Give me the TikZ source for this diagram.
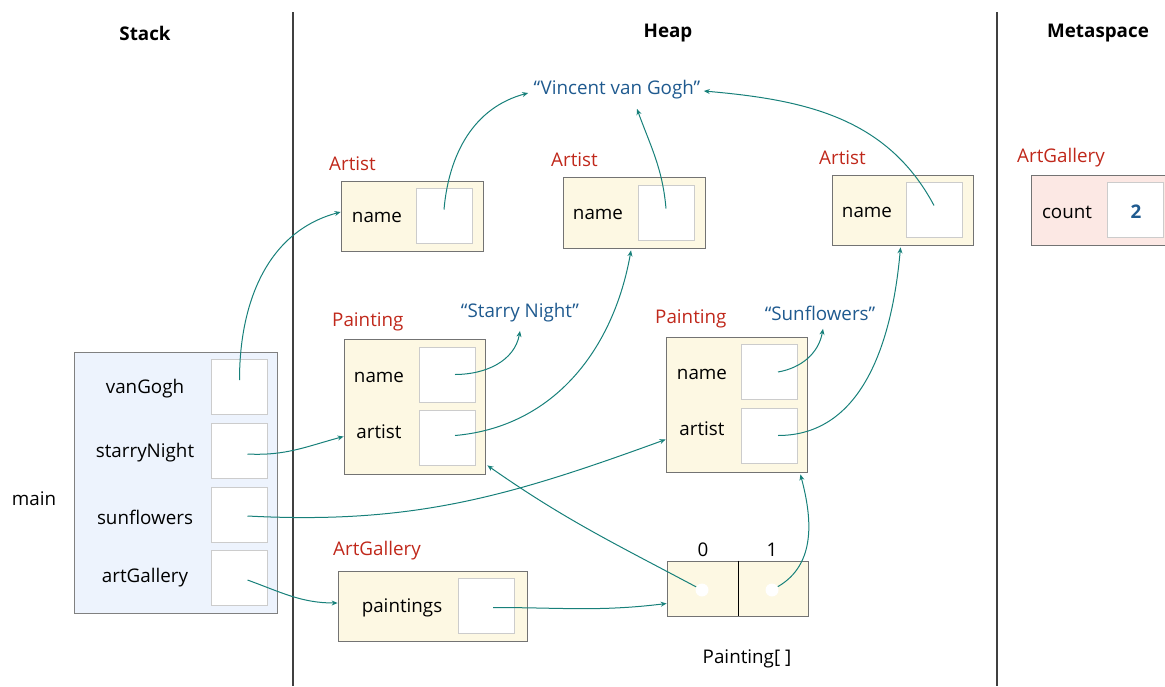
\documentclass[tikz,border=0pt]{standalone}
\usepackage{fontspec}
\setmainfont{Open Sans}
\usetikzlibrary{arrows.meta}

\definecolor{objfill}{HTML}{FDF8E3}
\definecolor{stackfill}{HTML}{EDF3FD}
\definecolor{metafill}{HTML}{FCE8E4}
\definecolor{typered}{HTML}{C0281B}
\definecolor{strblue}{HTML}{1F5A8F}
\definecolor{refteal}{HTML}{17807A}

\begin{document}
\begin{tikzpicture}[x=1pt,y=-1pt,
    every node/.style={font=\fontsize{18.8}{22}\selectfont},
    obj/.style={rectangle,fill=objfill,draw=black!55,line width=0.8pt,inner sep=0},
    slot/.style={rectangle,fill=white,draw=black!20,line width=0.8pt,minimum width=56,minimum height=55,inner sep=0},
    typename/.style={text=typered,anchor=west,inner sep=0},
    strval/.style={text=strblue},
    header/.style={font=\fontsize{18.8}{22}\selectfont\bfseries},
    dot/.style={circle,fill=white,minimum size=13,inner sep=0},
    ptr/.style={-{Stealth[length=6pt,width=5pt]},draw=refteal,line width=1pt},
    divider/.style={draw=black!75,line width=1.4pt}
]
\useasboundingbox (0,0) rectangle (1165,686);

% Areas
\draw[divider] (293,12) -- (293,686);
\draw[divider] (997,12) -- (997,686);
\node[header] (hstack) at (145,33) {Stack};
\node[header] (hheap) at (668,33) {Heap};
\node[header] (hmeta) at (1098,33) {Metaspace};

% Stack frame
\node (main) at (34,499) {main};
\node[rectangle,fill=stackfill,draw=black!50,line width=0.8pt,minimum width=203,minimum height=261] (frame) at (175.5,482.5) {};
\node (lvg) at (145,389) {vanGogh};
\node (lsn) at (145,453) {starryNight};
\node (lsf) at (145,517) {sunflowers};
\node (lag) at (145,578) {artGallery};
\node[slot] (s1) at (239.5,387) {};
\node[slot] (s2) at (239.5,451) {};
\node[slot] (s3) at (239.5,515) {};
\node[slot] (s4) at (239.5,578) {};

% Artists
\node[typename] (t1) at (329,164) {Artist};
\node[obj,minimum width=142,minimum height=70] (art1) at (412,216) {};
\node (n1) at (377,217) {name};
\node[slot] (art1s) at (444,215.5) {};

\node[typename] (t2) at (551,160) {Artist};
\node[obj,minimum width=142,minimum height=71] (art2) at (634,212.5) {};
\node (n2) at (598,214) {name};
\node[slot] (art2s) at (666,212.5) {};

\node[typename] (t3) at (819,158) {Artist};
\node[obj,minimum width=141,minimum height=70] (art3) at (902.5,210) {};
\node (n3) at (867,212) {name};
\node[slot] (art3s) at (934,209.5) {};

\node[strval] (vvg) at (617,90) {“Vincent van Gogh”};

% Paintings
\node[typename] (t4) at (332,322) {Painting};
\node[obj,minimum width=141,minimum height=135] (pnt1) at (414.5,406.5) {};
\node (n4) at (379,377) {name};
\node (a4) at (379,432) {artist};
\node[slot] (p1n) at (447,374.5) {};
\node[slot] (p1a) at (447,437.5) {};
\node[strval] (sn) at (520,313) {“Starry Night”};

\node[typename] (t5) at (655,319) {Painting};
\node[obj,minimum width=141,minimum height=135] (pnt2) at (736.5,404.5) {};
\node (n5) at (702,374) {name};
\node (a5) at (702,429) {artist};
\node[slot] (p2n) at (769,372) {};
\node[slot] (p2a) at (769,435.5) {};
\node[strval] (sf) at (820,313) {“Sunflowers”};

% Gallery and array
\node[typename] (t6) at (333,551) {ArtGallery};
\node[obj,minimum width=189,minimum height=70] (gal) at (432.5,606) {};
\node (pl) at (402,608) {paintings};
\node[slot] (gals) at (486,605.5) {};

\node[obj,minimum width=71,minimum height=55] (c0) at (702.5,588.5) {};
\node[obj,minimum width=70,minimum height=55] (c1) at (773,588.5) {};
\draw[black,line width=1pt] (c0.north east) -- (c0.south east);
\node (i0) at (703,550) {0};
\node (i1) at (772,550) {1};
\node[dot] (d0) at (702,590) {};
\node[dot] (d1) at (772,590) {};
\node (arrl) at (747,659) {Painting[ ]};

% Metaspace
\node[typename] (t7) at (1017,158) {ArtGallery};
\node[obj,fill=metafill,minimum width=146,minimum height=70] (meta) at (1104,210) {};
\node (cl) at (1067,212) {count};
\node[slot] (metas) at (1135.5,209.5) {};
\node[text=strblue,font=\fontsize{18.8}{22}\selectfont\bfseries] (cnt) at (1136,212) {2};

% References
\draw[ptr] ([yshift=7pt]s1.center) to[out=90,in=195] ([yshift=4pt]art1.west);
\draw[ptr] ([yshift=6pt]art1s.center) to[out=85,in=195] ([xshift=-2pt,yshift=-3pt]vvg.west);
\draw[ptr] ([yshift=4pt]art2s.center) to[out=95,in=-70] ([xshift=20pt,yshift=-6pt]vvg.south);
\draw[ptr] ([yshift=4pt]art3s.center) to[out=118,in=-5] ([yshift=-1pt]vvg.east);
\draw[ptr] ([xshift=8pt]p1n.center) to[out=0,in=-100] ([yshift=-5pt]sn.south);
\draw[ptr] ([xshift=8pt,yshift=2pt]p1a.center) to[out=5,in=-100] ([xshift=-3pt,yshift=-2pt]art2.south);
\draw[ptr] ([xshift=9pt]p2n.center) to[out=10,in=-100] ([xshift=3pt,yshift=-5pt]sf.south);
\draw[ptr] ([xshift=9pt]p2a.center) to[out=0,in=-95] ([xshift=-2pt,yshift=-2pt]art3.south);
\draw[ptr] ([xshift=8pt,yshift=-3pt]s2.center) to[out=-3,in=195] ([yshift=-30pt]pnt1.west);
\draw[ptr] ([xshift=8pt,yshift=-1pt]s3.center) to[out=-3,in=200] ([yshift=-35pt]pnt2.west);
\draw[ptr] ([xshift=8pt,yshift=-2pt]s4.center) to[out=-20,in=180] ([yshift=3pt]gal.west);
\draw[ptr] ([xshift=7pt,yshift=-2pt]gals.center) to[out=0,in=187] ([yshift=-15pt]c0.west);
\draw[ptr] (d0) to[out=152,in=-35] ([xshift=2pt,yshift=9pt]pnt1.south east);
\draw[ptr] (d1) to[out=30,in=-75] ([xshift=-7pt,yshift=-2pt]pnt2.south east);
\end{tikzpicture}
\end{document}
